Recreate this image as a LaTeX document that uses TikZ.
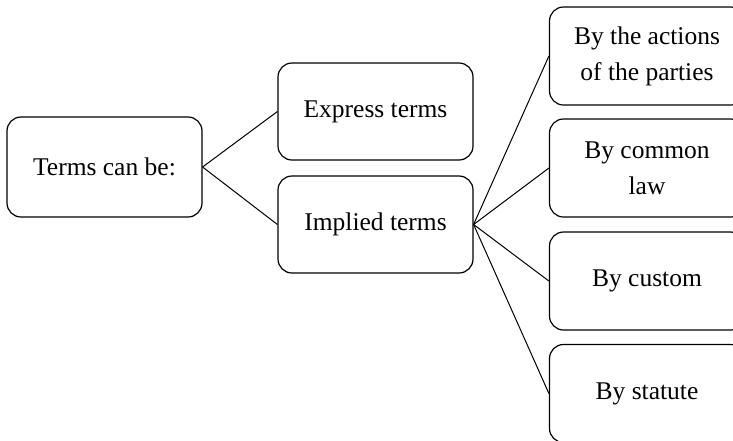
\documentclass[tikz,border=0pt]{standalone}
\usepackage{fontspec}
\setmainfont{Liberation Serif}
\begin{document}
\begin{tikzpicture}[x=1pt,y=-1pt,
  termbox/.style={draw, line width=1.2pt, rounded corners=14pt,
    minimum width=195pt, minimum height=98pt, align=center,
    inner sep=0pt, font=\fontsize{25.5}{36}\selectfont},
  link/.style={line width=1pt}]
\useasboundingbox (0,0) rectangle (733,440);

% first level
\node[termbox, minimum height=100pt] (root) at (104.5,167) {Terms can be:};

% second level
\node[termbox, minimum height=97pt] (express) at (375.5,111.5) {Express terms};
\node[termbox, minimum height=97pt] (implied) at (375.5,224.5) {Implied terms};

% ways a term can be implied
\node[termbox] (actions) at (647,56)    {By the actions\\of the parties};
\node[termbox] (common)  at (647,168)   {By common\\law};
\node[termbox] (custom)  at (647,281)   {By custom};
\node[termbox] (statute) at (647,393.5) {By statute};

% connectors
\draw[link] (root.east) -- (express.west);
\draw[link] (root.east) -- (implied.west);
\foreach \n in {actions,common,custom,statute}
  \draw[link] (implied.east) -- (\n.west);
\end{tikzpicture}
\end{document}
